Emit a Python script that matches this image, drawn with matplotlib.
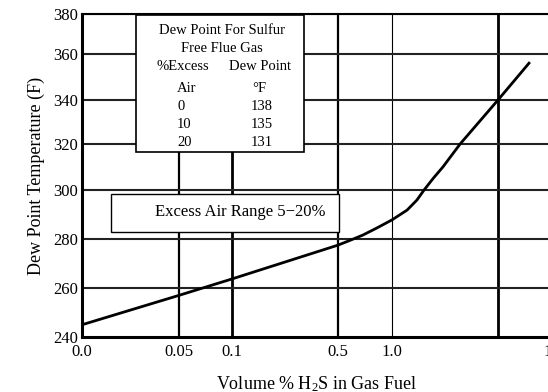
import numpy as np
import matplotlib.pyplot as plt
from matplotlib.patches import Rectangle

plt.rcParams['font.family'] = ['Liberation Serif', 'DejaVu Serif']
plt.rcParams['mathtext.fontset'] = 'custom'
plt.rcParams['mathtext.rm'] = 'Liberation Serif'
plt.rcParams['mathtext.it'] = 'Liberation Serif:italic'

# chart data
h2s_pct = [0.0, 0.05, 0.1, 0.5, 0.62, 0.73, 0.86, 1.0, 1.57, 1.94, 2.21, 2.55,
           2.92, 3.57, 5.0, 7.87]
dew_point = [245, 257, 263.7, 277.5, 279.6, 281.6, 284.5, 287.8, 291.8, 295.9,
             300, 305, 310, 320, 340, 356]

x_ticks = [0.0, 0.05, 0.1, 0.5, 1.0, 5.0, 10.0]
x_tick_labels = ["0.0", "0.05", "0.1", "0.5", "1.0", "", "10"]
y_ticks = [240, 260, 280, 300, 320, 340, 360, 380]

table_rows = [("0", "138"), ("10", "135"), ("20", "131")]

# the printed chart's axes are not evenly spaced; grid positions in pixels
x_grid_px = [0, 97, 150, 256, 310, 416, 470]
y_grid_px = [0, 49, 98, 147, 193, 237, 283, 323]
x_grid_lw = [0, 1.6, 2.0, 1.6, 0.8, 2.0, 1.6]

fig = plt.figure(figsize=(5.48, 3.92), dpi=100)
ax = fig.add_axes([82 / 548, 55 / 392, 470 / 548, 323 / 392])

ax.set_xscale('function', functions=(lambda v: np.interp(v, x_ticks, x_grid_px),
                                     lambda p: np.interp(p, x_grid_px, x_ticks)))
ax.set_yscale('function', functions=(lambda v: np.interp(v, y_ticks, y_grid_px),
                                     lambda p: np.interp(p, y_grid_px, y_ticks)))
ax.set_xlim(0, 10)
ax.set_ylim(240, 380)

for xv, lw in zip(x_ticks[1:], x_grid_lw[1:]):
    ax.axvline(xv, color='black', lw=lw, zorder=1)
for yv in y_ticks[1:]:
    ax.axhline(yv, color='#222222', lw=1.5, zorder=1)

ax.plot(h2s_pct, dew_point, color='black', lw=2.0, zorder=2,
        solid_joinstyle='round')

ax.set_xticks(x_ticks)
ax.set_xticklabels(x_tick_labels)
ax.set_yticks(y_ticks)
ax.tick_params(length=0, labelsize=12, pad=3)
ax.tick_params(axis='x', pad=5)
for side in ['left', 'bottom']:
    ax.spines[side].set_linewidth(2.2)
ax.spines['top'].set_linewidth(1.5)
ax.spines['right'].set_visible(False)

ax.set_xlabel("Volume % H$_2$S in Gas Fuel", fontsize=13, labelpad=10)
ax.set_ylabel("Dew Point Temperature (F)", fontsize=13, labelpad=6)


def at(px, py):
    # pixel position in the figure -> axes fraction
    return (px - 82) / 470, (337 - py) / 323


# inset table
x0, y0 = at(136, 152)
x1, y1 = at(304, 15)
ax.add_patch(Rectangle((x0, y0), x1 - x0, y1 - y0, transform=ax.transAxes,
                       facecolor='white', edgecolor='black', lw=1.2, zorder=3))
fs = 10.5
ax.text(*at(222, 30), "Dew Point For Sulfur", transform=ax.transAxes,
        ha='center', va='center', fontsize=fs, zorder=4)
ax.text(*at(222, 48), "Free Flue Gas", transform=ax.transAxes,
        ha='center', va='center', fontsize=fs, zorder=4)
ax.text(*at(183, 67), "%Excess", transform=ax.transAxes,
        ha='center', va='center', fontsize=fs, zorder=4)
ax.text(*at(260, 67), "Dew Point", transform=ax.transAxes,
        ha='center', va='center', fontsize=fs, zorder=4)
ax.text(*at(187, 88), "Air", transform=ax.transAxes,
        ha='center', va='center', fontsize=fs, zorder=4)
ax.text(*at(259, 88), "\u00b0F", transform=ax.transAxes,
        ha='center', va='center', fontsize=fs, zorder=4)
for i, (air, dp) in enumerate(table_rows):
    py = 107 + i * 17.5
    ax.text(*at(177, py), air, transform=ax.transAxes,
            ha='left', va='center', fontsize=fs, zorder=4)
    ax.text(*at(262, py), dp, transform=ax.transAxes,
            ha='center', va='center', fontsize=fs, zorder=4)

# excess air note
x0, y0 = at(111, 232)
x1, y1 = at(339, 194)
ax.add_patch(Rectangle((x0, y0), x1 - x0, y1 - y0, transform=ax.transAxes,
                       facecolor='white', edgecolor='black', lw=1.0, zorder=3))
ax.text(*at(240, 212), "Excess Air Range 5\u221220%", transform=ax.transAxes,
        ha='center', va='center', fontsize=12, zorder=4)

fig.savefig("out.png", dpi=100)
